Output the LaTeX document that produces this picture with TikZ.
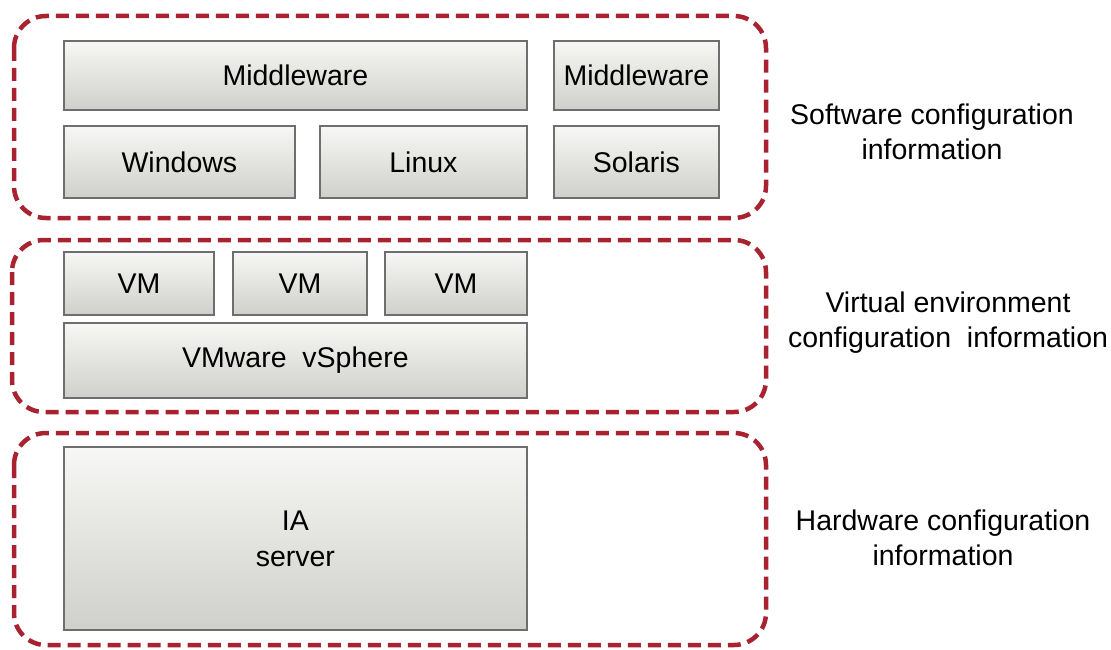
\documentclass[tikz,border=0pt]{standalone}
\usepackage{fontspec}
\setmainfont{Liberation Sans}
\begin{document}
\begin{tikzpicture}[x=1pt,y=-1pt,
  group/.style={draw=grpred,line width=4.5pt,dash pattern=on 13pt off 7pt,rounded corners=32pt},
  layerbox/.style={draw=boxgray,line width=1.8pt,top color=boxtop,bottom color=boxbot,shading angle=0,
    font=\fontsize{28.5}{33}\selectfont,text=black,inner sep=0pt,anchor=north west},
  lbl/.style={font=\fontsize{28.5}{35}\selectfont,align=center,text=black}]
\definecolor{grpred}{HTML}{A8222F}
\definecolor{boxgray}{HTML}{6E6E6E}
\definecolor{boxtop}{HTML}{F7F7F5}
\definecolor{boxbot}{HTML}{CFCFCB}
\useasboundingbox (0,0) rectangle (1111,650);
% groups
\draw[group] (14,16) rectangle (766,218);
\draw[group] (12,240) rectangle (766,412);
\draw[group] (14,433) rectangle (766,645);
% boxes
\newcommand{\lbox}[6]{\node[layerbox,minimum width=#4pt,minimum height=#5pt] (#1) at (#2,#3) {#6};}
\lbox{mw1}{63}{40}{463}{69}{Middleware}
\lbox{mw2}{553}{40}{165}{69}{Middleware}
\lbox{win}{63}{125}{231}{72}{Windows}
\lbox{lin}{319}{125}{207}{72}{Linux}
\lbox{sol}{553}{125}{165}{72}{Solaris}
\lbox{vm1}{63}{251}{150}{63}{VM}
\lbox{vm2}{232}{251}{134}{63}{VM}
\lbox{vm3}{384}{251}{142}{63}{VM}
\lbox{vs}{63}{322}{463}{75}{VMware\ \ vSphere}
\node[layerbox,minimum width=463pt,minimum height=183pt,align=center,font=\fontsize{28.5}{36}\selectfont] (ia) at (63,446) {IA\\server};
% labels
\node[lbl] (swl) at (932,132) {Software configuration\\information};
\node[lbl] (vel) at (948,323) {Virtual environment\\configuration\ \ information};
\node[lbl] (hwl) at (943,538) {Hardware configuration\\information};
\end{tikzpicture}
\end{document}
